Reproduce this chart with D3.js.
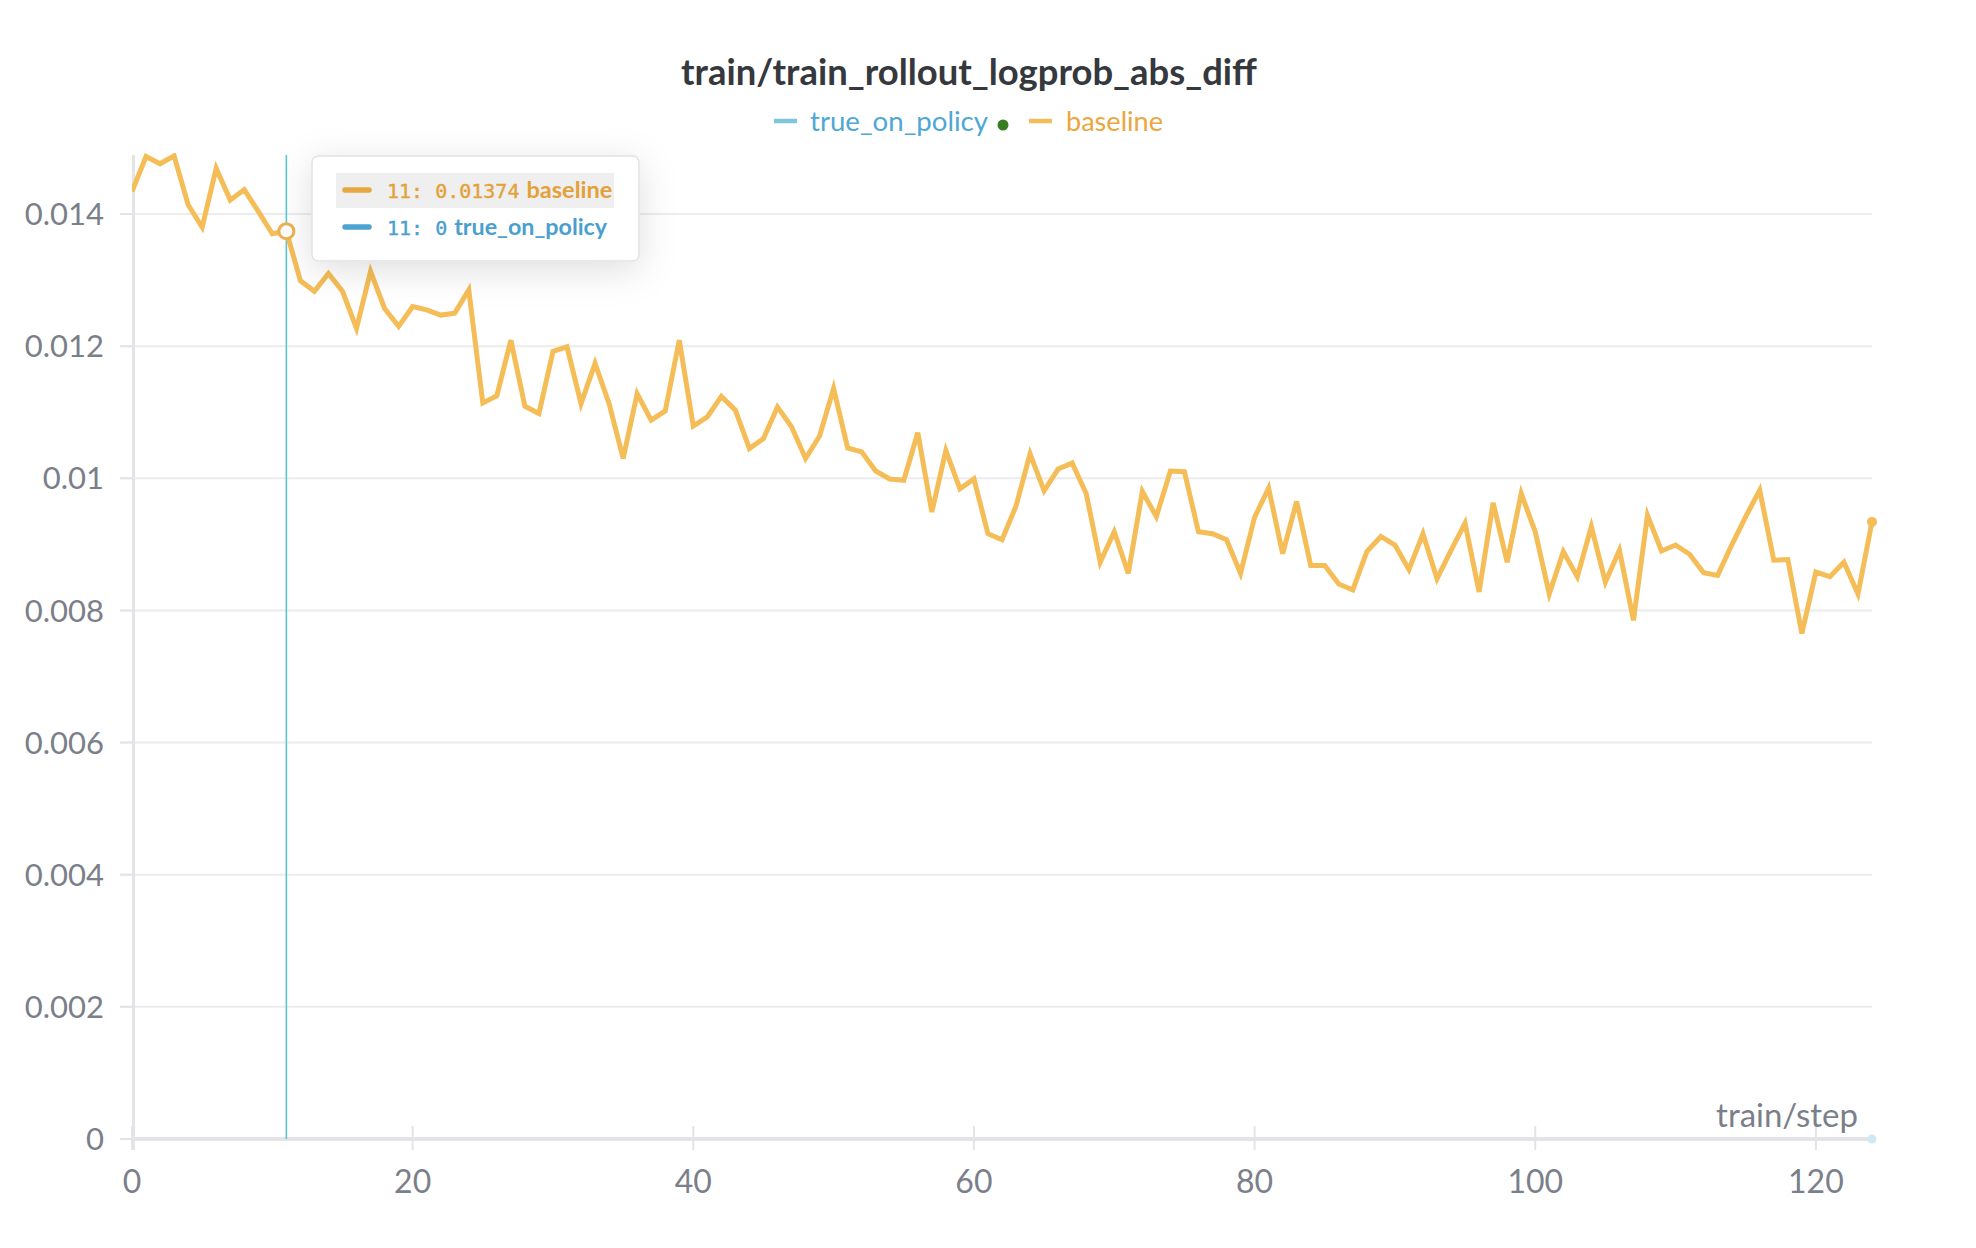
<!DOCTYPE html>
<html>
<head>
<meta charset="utf-8">
<script src="https://cdn.jsdelivr.net/npm/d3@7"></script>
<style>
  html, body { margin: 0; padding: 0; background: #fff; }
  svg { display: block; font-family: Lato, "Noto Sans", sans-serif; }
</style>
</head>
<body>
<svg id="chart" width="1976" height="1248"></svg>
<script>
// chart data
const chartTitle = "train/train_rollout_logprob_abs_diff";
const xLabel = "train/step";
const seriesNames = ["true_on_policy", "baseline"];
const hoverStep = 11;

const baselineValues = [
  0.01434, 0.01487, 0.01476, 0.01488, 0.01414, 0.01380, 0.01469, 0.01421, 0.01437, 0.01404,
  0.01370, 0.01374, 0.01299, 0.01283, 0.01310, 0.01283, 0.01227, 0.01313, 0.01257, 0.01230,
  0.01260, 0.01255, 0.01247, 0.01250, 0.01285, 0.01114, 0.01125, 0.01209, 0.01109, 0.01098,
  0.01192, 0.01199, 0.01113, 0.01174, 0.01113, 0.01030, 0.01128, 0.01088, 0.01102, 0.01209,
  0.01079, 0.01093, 0.01124, 0.01103, 0.01045, 0.01060, 0.01108, 0.01078, 0.01030, 0.01064,
  0.01136, 0.01046, 0.01040, 0.01011, 0.00999, 0.00997, 0.01069, 0.00949, 0.01042, 0.00984,
  0.00999, 0.00916, 0.00907, 0.00958, 0.01037, 0.00981, 0.01014, 0.01023, 0.00977, 0.00873,
  0.00919, 0.00856, 0.00980, 0.00942, 0.01011, 0.01010, 0.00919, 0.00916, 0.00907, 0.00856,
  0.00941, 0.00985, 0.00886, 0.00965, 0.00868, 0.00868, 0.00840, 0.00831, 0.00889, 0.00912,
  0.00899, 0.00862, 0.00916, 0.00848, 0.00891, 0.00932, 0.00828, 0.00963, 0.00873, 0.00977,
  0.00919, 0.00825, 0.00889, 0.00851, 0.00927, 0.00843, 0.00891, 0.00785, 0.00944, 0.00890,
  0.00899, 0.00885, 0.00857, 0.00853, 0.00899, 0.00942, 0.00982, 0.00876, 0.00877, 0.00765,
  0.00858, 0.00851, 0.00873, 0.00825, 0.00934
];

const trueOnPolicyValues = [
  0,0,0,0,0,0,0,0,0,0, 0,0,0,0,0,0,0,0,0,0, 0,0,0,0,0,0,0,0,0,0,
  0,0,0,0,0,0,0,0,0,0, 0,0,0,0,0,0,0,0,0,0, 0,0,0,0,0,0,0,0,0,0,
  0,0,0,0,0,0,0,0,0,0, 0,0,0,0,0,0,0,0,0,0, 0,0,0,0,0,0,0,0,0,0,
  0,0,0,0,0,0,0,0,0,0, 0,0,0,0,0,0,0,0,0,0, 0,0,0,0,0,0,0,0,0,0,
  0,0,0,0,0
];

const xTicks = [0, 20, 40, 60, 80, 100, 120];
const yTicks = [0, 0.002, 0.004, 0.006, 0.008, 0.01, 0.012, 0.014];
const yTickLabels = ["0", "0.002", "0.004", "0.006", "0.008", "0.01", "0.012", "0.014"];

// look
const lineColor = "#f5bd57";
const blueLine = "#7dc6dd";
const orangeText = "#eba63d";
const blueText = "#4ea7d4";
const tickColor = "#7b7f8a";
const gridColor = "#ececee";
const axisColor = "#e4e4e8";

const svg = d3.select("#chart");
const width = 1976, height = 1248;
const margin = { top: 155, right: 104, bottom: 109, left: 132 };
const plotRight = width - margin.right;  // 1872
const y0 = height - margin.bottom;       // 1139

const x = d3.scaleLinear().domain([0, baselineValues.length - 1]).range([margin.left, plotRight]);
const y = d3.scaleLinear().domain([0, 0.014]).range([y0, 214]);

function fitWidth(sel, target) {
  const w = sel.node().getComputedTextLength();
  const fs = parseFloat(sel.attr("font-size"));
  sel.attr("font-size", (fs * target / w).toFixed(2));
}

const defs = svg.append("defs");
defs.append("clipPath").attr("id", "plotClip")
  .append("rect")
  .attr("x", margin.left).attr("y", margin.top - 2)
  .attr("width", plotRight - margin.left + 10).attr("height", y0 - margin.top + 10);

const shadow = defs.append("filter").attr("id", "tipShadow")
  .attr("x", "-40%").attr("y", "-60%").attr("width", "180%").attr("height", "240%");
shadow.append("feDropShadow")
  .attr("dx", 0).attr("dy", 8).attr("stdDeviation", 18)
  .attr("flood-color", "#000").attr("flood-opacity", 0.13);

// title
const title = svg.append("text")
  .attr("x", 969).attr("y", 85)
  .attr("text-anchor", "middle")
  .attr("font-size", 32).attr("font-weight", 700)
  .attr("fill", "#35383d")
  .text(chartTitle);
fitWidth(title, 576);

// legend
const legendItems = [
  { name: seriesNames[0], swatch: blueLine, text: blueText, sx: 774, tx: 810, w: 178 },
  { name: seriesNames[1], swatch: lineColor, text: orangeText, sx: 1029, tx: 1066, w: 97 }
];
const legend = svg.append("g").attr("class", "legend");
legendItems.forEach((d) => {
  legend.append("line")
    .attr("x1", d.sx).attr("x2", d.sx + 23)
    .attr("y1", 121).attr("y2", 121)
    .attr("stroke", d.swatch).attr("stroke-width", 4.5);
  const t = legend.append("text")
    .attr("x", d.tx).attr("y", 131)
    .attr("font-size", 28)
    .attr("fill", d.text)
    .text(d.name);
  fitWidth(t, d.w);
});
legend.append("circle")
  .attr("cx", 1003).attr("cy", 125).attr("r", 5.5)
  .attr("fill", "#367d22");

// grid + y labels
const grid = svg.append("g").attr("class", "grid");
grid.selectAll("line")
  .data(yTicks.filter((v) => v > 0))
  .join("line")
  .attr("x1", 120).attr("x2", plotRight)
  .attr("y1", (d) => y(d)).attr("y2", (d) => y(d))
  .attr("stroke", gridColor).attr("stroke-width", 2);

svg.append("g").selectAll("line")
  .data(yTicks)
  .join("line")
  .attr("x1", 120).attr("x2", margin.left)
  .attr("y1", (d) => y(d)).attr("y2", (d) => y(d))
  .attr("stroke", axisColor).attr("stroke-width", 2);

svg.append("g").attr("class", "y-labels")
  .selectAll("text")
  .data(yTicks)
  .join("text")
  .attr("x", 104)
  .attr("y", (d) => y(d))
  .attr("dy", "0.36em")
  .attr("text-anchor", "end")
  .attr("font-size", 31)
  .attr("fill", tickColor)
  .text((d, i) => yTickLabels[i]);

// x ticks
svg.append("g").attr("class", "x-ticks")
  .selectAll("line")
  .data(xTicks)
  .join("line")
  .attr("x1", (d) => x(d)).attr("x2", (d) => x(d))
  .attr("y1", y0 - 13).attr("y2", y0 + 11)
  .attr("stroke", axisColor).attr("stroke-width", 2);

svg.append("g").attr("class", "x-labels")
  .selectAll("text")
  .data(xTicks)
  .join("text")
  .attr("x", (d) => x(d))
  .attr("y", 1193)
  .attr("text-anchor", "middle")
  .attr("font-size", 32)
  .attr("fill", tickColor)
  .text((d) => d);

// true_on_policy sits at zero, beneath the axis line
const line = d3.line().x((d, i) => x(i)).y((d) => y(d));
svg.append("path")
  .datum(trueOnPolicyValues)
  .attr("fill", "none")
  .attr("stroke", blueLine)
  .attr("stroke-width", 3)
  .attr("d", line);

// axes
svg.append("line")
  .attr("x1", margin.left + 1.5).attr("x2", margin.left + 1.5)
  .attr("y1", margin.top).attr("y2", y0 + 11)
  .attr("stroke", axisColor).attr("stroke-width", 3);
svg.append("line")
  .attr("x1", margin.left).attr("x2", plotRight)
  .attr("y1", y0).attr("y2", y0)
  .attr("stroke", axisColor).attr("stroke-width", 4);

svg.append("circle")
  .attr("cx", x(trueOnPolicyValues.length - 1)).attr("cy", y(0)).attr("r", 4.5)
  .attr("fill", "#cfe9f2");

svg.append("text")
  .attr("x", 1858).attr("y", 1127)
  .attr("text-anchor", "end")
  .attr("font-size", 33)
  .attr("fill", tickColor)
  .text(xLabel);

// hover cursor
svg.append("line")
  .attr("x1", x(hoverStep)).attr("x2", x(hoverStep))
  .attr("y1", margin.top).attr("y2", y0)
  .attr("stroke", "#5cc6cf").attr("stroke-width", 1.6);

// baseline line
svg.append("path")
  .datum(baselineValues)
  .attr("clip-path", "url(#plotClip)")
  .attr("fill", "none")
  .attr("stroke", lineColor)
  .attr("stroke-width", 5)
  .attr("stroke-linejoin", "miter")
  .attr("d", line);

const last = baselineValues.length - 1;
svg.append("circle")
  .attr("cx", x(last)).attr("cy", y(baselineValues[last])).attr("r", 5)
  .attr("fill", lineColor);

svg.append("circle")
  .attr("cx", x(hoverStep)).attr("cy", y(baselineValues[hoverStep])).attr("r", 7.5)
  .attr("fill", "#fff")
  .attr("stroke", "#eeb24d").attr("stroke-width", 3);

// tooltip
const tip = svg.append("g").attr("class", "tooltip");
tip.append("rect")
  .attr("x", 312).attr("y", 156)
  .attr("width", 327).attr("height", 105)
  .attr("rx", 6)
  .attr("fill", "#fff")
  .attr("stroke", "#e2e2e2").attr("stroke-width", 1.5)
  .attr("filter", "url(#tipShadow)");
tip.append("rect")
  .attr("x", 336).attr("y", 173)
  .attr("width", 278).attr("height", 35)
  .attr("fill", "#efefef");

const tipRows = [
  { name: seriesNames[1], value: baselineValues[hoverStep], swatch: "#e6a640", text: "#e3a13a", y: 198, w: 86 },
  { name: seriesNames[0], value: trueOnPolicyValues[hoverStep], swatch: "#4da3d2", text: "#4a9fce", y: 235, w: 153 }
];
tipRows.forEach((r) => {
  tip.append("line")
    .attr("x1", 345).attr("x2", 369)
    .attr("y1", r.y - 8).attr("y2", r.y - 8)
    .attr("stroke", r.swatch).attr("stroke-width", 5.5)
    .attr("stroke-linecap", "round");
  const mono = `${hoverStep}: ${r.value}`;
  const t = tip.append("text")
    .attr("x", 387).attr("y", r.y)
    .attr("fill", r.text);
  t.append("tspan")
    .attr("font-family", "'DejaVu Sans Mono', monospace")
    .attr("font-size", 20)
    .attr("stroke", r.text)
    .attr("stroke-width", 0.4)
    .text(mono);
  const nameT = tip.append("text")
    .attr("x", 387 + mono.length * 12.04 + 7).attr("y", r.y)
    .attr("font-size", 25)
    .attr("font-weight", 700)
    .attr("fill", r.text)
    .text(r.name);
  fitWidth(nameT, r.w);
});
</script>
</body>
</html>
